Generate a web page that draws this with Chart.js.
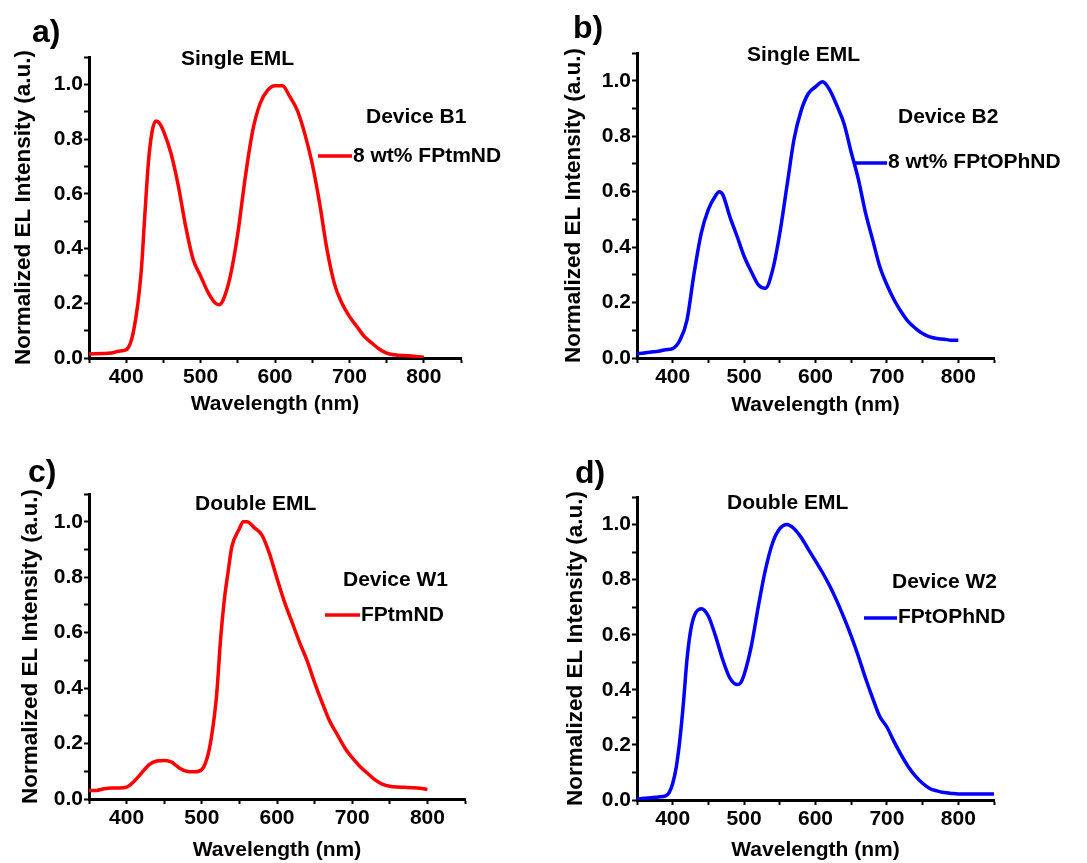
<!DOCTYPE html>
<html>
<head>
<meta charset="utf-8">
<script src="https://cdn.jsdelivr.net/npm/chart.js@4"></script>
<style>
  body { margin: 0; background: #fff; width: 1087px; height: 863px; position: relative; overflow: hidden; }
  canvas { position: absolute; }
</style>
</head>
<body>
<canvas id="chartA" width="543" height="440" style="left:0px;top:0px"></canvas>
<canvas id="chartB" width="544" height="440" style="left:543px;top:0px"></canvas>
<canvas id="chartC" width="543" height="423" style="left:0px;top:440px"></canvas>
<canvas id="chartD" width="544" height="423" style="left:543px;top:440px"></canvas>
<script>
// a) Single EML, Device B1, 8 wt% FPtmND
const wlA = [350,380,390,400,410,420,425,430,435,440,445,450,460,470,480,490,500,510,520,525,530,540,550,560,570,580,590,600,610,620,630,640,650,660,670,680,690,700,710,720,730,740,750,760,780,800];
const elA = [0.015,0.018,0.025,0.03,0.10,0.31,0.52,0.72,0.83,0.866,0.857,0.83,0.75,0.63,0.48,0.36,0.30,0.24,0.20,0.195,0.21,0.30,0.455,0.66,0.83,0.93,0.978,0.995,0.995,0.955,0.905,0.82,0.71,0.565,0.395,0.27,0.20,0.152,0.115,0.079,0.055,0.033,0.018,0.012,0.008,0.003];

// b) Single EML, Device B2, 8 wt% FPtOPhND
const wlB = [350,360,370,380,390,400,410,420,430,440,450,460,465,470,480,490,500,510,520,530,540,550,560,570,580,590,600,610,620,630,640,650,660,670,680,690,700,710,720,730,740,750,760,770,780,790,800];
const elB = [0.016,0.018,0.022,0.024,0.03,0.034,0.064,0.137,0.306,0.45,0.536,0.585,0.6,0.59,0.51,0.44,0.367,0.312,0.264,0.252,0.318,0.45,0.62,0.79,0.893,0.954,0.978,0.996,0.966,0.91,0.845,0.742,0.645,0.524,0.427,0.33,0.264,0.21,0.167,0.131,0.107,0.088,0.076,0.07,0.068,0.064,0.064];

// c) Double EML, Device W1, FPtmND
const wlC = [350,360,370,380,390,400,410,420,430,440,450,460,470,480,490,500,505,510,515,520,525,530,535,540,550,555,560,570,580,590,600,610,620,630,640,650,660,670,680,690,700,710,720,730,740,750,760,770,780,790,800];
const elC = [0.031,0.031,0.037,0.04,0.04,0.043,0.064,0.094,0.124,0.137,0.139,0.133,0.112,0.1,0.098,0.106,0.13,0.18,0.263,0.384,0.577,0.72,0.82,0.91,0.975,1.0,1.0,0.978,0.952,0.885,0.795,0.71,0.638,0.565,0.499,0.42,0.348,0.281,0.233,0.185,0.149,0.118,0.094,0.07,0.054,0.046,0.043,0.042,0.041,0.039,0.034];

// d) Double EML, Device W2, FPtOPhND
const wlD = [350,360,370,380,390,395,400,405,410,415,420,425,430,440,450,460,470,480,490,495,500,510,520,530,540,550,560,570,580,590,600,610,620,630,640,650,660,670,680,690,700,710,720,730,740,750,760,770,780,790,800,820,850];
const elD = [0.002,0.006,0.008,0.011,0.015,0.027,0.06,0.12,0.218,0.352,0.51,0.613,0.667,0.694,0.667,0.595,0.51,0.443,0.419,0.425,0.455,0.558,0.704,0.837,0.934,0.985,1.0,0.985,0.953,0.91,0.868,0.825,0.777,0.722,0.661,0.595,0.522,0.443,0.37,0.303,0.265,0.212,0.164,0.121,0.087,0.061,0.042,0.033,0.027,0.024,0.022,0.022,0.022];

const xTitle = "Wavelength (nm)";
const yTitle = "Normalized EL Intensity (a.u.)";
const FONT = '"Liberation Sans", Arial, sans-serif';

function makePanel(id, cfg) {
  const canvas = document.getElementById(id);
  const W = canvas.width, H = canvas.height;
  const area = cfg.area;

  // letters, headings and the little legend
  const labels = {
    id: "panelText",
    afterDraw(chart) {
      const ctx = chart.ctx;
      ctx.save();
      ctx.fillStyle = "#000";
      ctx.textAlign = "left";
      ctx.textBaseline = "alphabetic";
      ctx.font = "bold 32px " + FONT;
      ctx.fillText(cfg.letter, cfg.letterPos[0], cfg.letterPos[1]);
      ctx.font = "bold 21px " + FONT;
      ctx.fillText(cfg.heading, cfg.headingPos[0], cfg.headingPos[1]);
      ctx.fillText(cfg.device, cfg.devicePos[0], cfg.devicePos[1]);
      ctx.strokeStyle = cfg.color;
      ctx.lineWidth = 3.5;
      ctx.beginPath();
      ctx.moveTo(cfg.legendLine[0], cfg.legendLine[2]);
      ctx.lineTo(cfg.legendLine[1], cfg.legendLine[2]);
      ctx.stroke();
      ctx.fillText(cfg.name, cfg.legendLine[1] + 1, cfg.nameY);
      ctx.restore();
    }
  };

  new Chart(canvas, {
    type: "line",
    data: {
      datasets: [{
        label: cfg.name,
        data: cfg.x.map((v, i) => ({ x: v, y: cfg.y[i] })),
        borderColor: cfg.color,
        borderWidth: 3.5,
        pointRadius: 0,
        cubicInterpolationMode: "monotone",
        fill: false
      }]
    },
    options: {
      responsive: false,
      animation: false,
      devicePixelRatio: 1,
      layout: { padding: { top: area.top, right: W - area.right, left: 0, bottom: 0 } },
      plugins: { legend: { display: false }, tooltip: { enabled: false } },
      scales: {
        x: {
          type: "linear",
          min: 350,
          max: 850,
          afterFit: (s) => { s.height = H - area.bottom; },
          border: { display: true, color: "#000", width: 3 },
          grid: { drawOnChartArea: false, drawTicks: true, tickLength: 5, tickWidth: 2, tickColor: "#000" },
          ticks: {
            stepSize: 50,
            autoSkip: false,
            maxRotation: 0,
            padding: 2,
            color: "#000",
            font: { family: FONT, size: 21, weight: "bold" },
            callback: (v) => (v % 100 === 0 && v >= 400 && v <= 800) ? String(v) : ""
          },
          title: {
            display: true,
            text: xTitle,
            color: "#000",
            font: { family: FONT, size: 21, weight: "bold" },
            padding: { top: 0, bottom: cfg.xTitlePad }
          }
        },
        y: {
          min: 0,
          max: 1.1,
          afterFit: (s) => { s.width = area.left; },
          border: { display: true, color: "#000", width: 3 },
          grid: { drawOnChartArea: false, drawTicks: true, tickLength: 5, tickWidth: 2, tickColor: "#000" },
          ticks: {
            stepSize: 0.1,
            autoSkip: false,
            padding: 1,
            color: "#000",
            font: { family: FONT, size: 21, weight: "bold" },
            callback: (v) => {
              const k = Math.round(v * 10);
              return (k % 2 === 0 && k <= 10) ? (k / 10).toFixed(1) : "";
            }
          },
          title: {
            display: true,
            text: yTitle,
            color: "#000",
            font: { family: FONT, size: 22.5, weight: "bold" },
            padding: { top: cfg.yTitlePad, bottom: 0 }
          }
        }
      }
    },
    plugins: [labels]
  });
}

makePanel("chartA", {
  x: wlA, y: elA, color: "#ff0000",
  area: { left: 89, right: 461, top: 57, bottom: 358 },
  xTitlePad: 23, yTitlePad: 10,
  letter: "a)", letterPos: [32, 42],
  heading: "Single EML", headingPos: [181, 65],
  device: "Device B1", devicePos: [366, 123],
  legendLine: [318, 352, 156], name: "8 wt% FPtmND", nameY: 162
});

makePanel("chartB", {
  x: wlB, y: elB, color: "#0000ff",
  area: { left: 94, right: 451, top: 53, bottom: 358 },
  xTitlePad: 22, yTitlePad: 17,
  letter: "b)", letterPos: [30, 38],
  heading: "Single EML", headingPos: [204, 61],
  device: "Device B2", devicePos: [355, 123],
  legendLine: [310, 344, 163], name: "8 wt% FPtOPhND", nameY: 168
});

makePanel("chartC", {
  x: wlC, y: elC, color: "#ff0000",
  area: { left: 89, right: 465, top: 54, bottom: 359 },
  xTitlePad: 0, yTitlePad: 17,
  letter: "c)", letterPos: [28, 42],
  heading: "Double EML", headingPos: [195, 70],
  device: "Device W1", devicePos: [343, 146],
  legendLine: [325, 360, 175], name: "FPtmND", nameY: 181
});

makePanel("chartD", {
  x: wlD, y: elD, color: "#0000ff",
  area: { left: 94, right: 451, top: 57, bottom: 360 },
  xTitlePad: 0, yTitlePad: 19,
  letter: "d)", letterPos: [32, 43],
  heading: "Double EML", headingPos: [184, 69],
  device: "Device W2", devicePos: [349, 148],
  legendLine: [321, 354, 178], name: "FPtOPhND", nameY: 183
});
</script>
</body>
</html>
